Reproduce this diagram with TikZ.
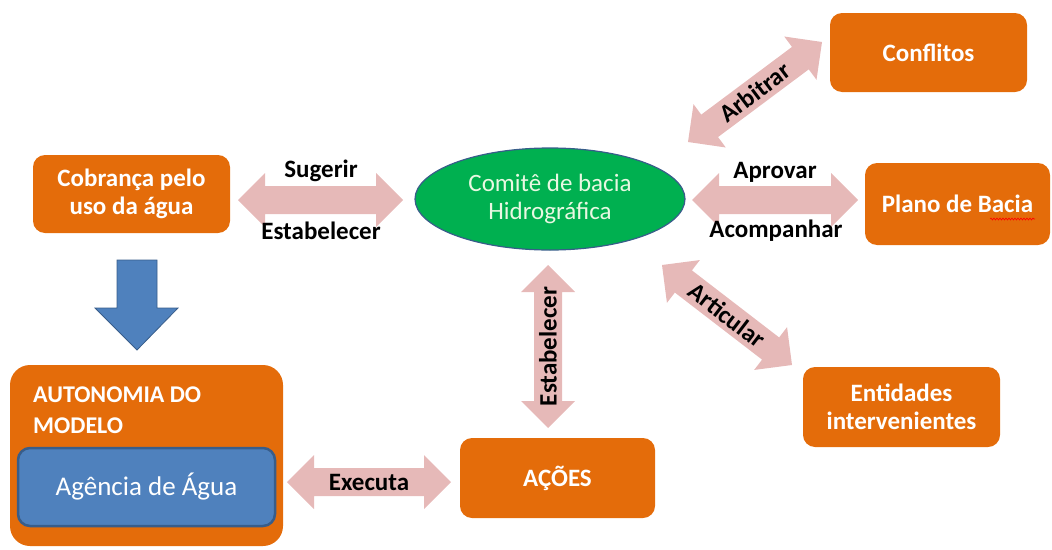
\documentclass[tikz,border=0pt]{standalone}
\usepackage{fontspec}
\setmainfont{Carlito}
\usetikzlibrary{shapes.geometric,calc,decorations.pathmorphing}

\definecolor{boxorange}{RGB}{228,108,10}
\definecolor{arrowpink}{RGB}{230,185,184}
\definecolor{comitegreen}{RGB}{0,176,80}
\definecolor{agblue}{RGB}{79,129,189}
\definecolor{agborder}{RGB}{56,93,138}
\definecolor{paletext}{RGB}{232,248,226}

\tikzset{
  orangebox/.style={fill=boxorange, rounded corners=12pt, text=white, align=center,
    font=\bfseries\fontsize{25}{28}\selectfont, inner sep=0pt},
  armlabel/.style={font=\bfseries\fontsize{25}{28}\selectfont, inner sep=0pt},
  arrowfill/.style={fill=arrowpink}
}

% fat double arrow between two named points
\newcommand{\fatarrow}[2]{%
  \coordinate (fa1) at ($(#1)!27pt!(#2)$);
  \coordinate (fa2) at ($(#2)!27pt!(#1)$);
  \fill[arrowfill] (#1) -- ($(fa1)!27pt!90:(#2)$) -- ($(fa1)!14pt!90:(#2)$)
    -- ($(fa2)!14pt!-90:(#1)$) -- ($(fa2)!27pt!-90:(#1)$) -- (#2)
    -- ($(fa2)!27pt!90:(#1)$) -- ($(fa2)!14pt!90:(#1)$)
    -- ($(fa1)!14pt!-90:(#2)$) -- ($(fa1)!27pt!-90:(#2)$) -- cycle;}

\begin{document}
\begin{tikzpicture}[x=1pt,y=-1pt]
    \useasboundingbox (0,0) rectangle (1052,549);

    % boxes
    \node[orangebox, minimum width=197, minimum height=78] (cob) at (131.5,194) {Cobrança pelo\\uso da água};
    \node[orangebox, minimum width=197, minimum height=79] (conf) at (928.5,52.5) {Conflitos};
    \node[orangebox, minimum width=185, minimum height=82] (plano) at (957.5,204) {Plano de Bacia};
    \node[orangebox, minimum width=197, minimum height=80] (ent) at (901.5,407) {Entidades\\intervenientes};
    \node[orangebox, minimum width=195, minimum height=80] (acoes) at (557.5,478) {AÇÕES};
    \node[orangebox, minimum width=273, minimum height=181, rounded corners=20pt] (auto) at (146.5,455.5) {};
    \node[anchor=north west, align=left, text=white, inner sep=0pt,
          font=\bfseries\fontsize{24}{31}\selectfont] (autotxt) at (33,387) {AUTONOMIA DO\\MODELO};
    \node[draw=agborder, line width=2.5pt, fill=agblue, rounded corners=12pt,
          minimum width=257, minimum height=78, text=white,
          font=\fontsize{27}{32}\selectfont] (ag) at (146.5,487) {Agência de Água};
    \node[ellipse, draw=agborder, line width=1.2pt, fill=comitegreen, minimum width=270,
          minimum height=102, text=paletext, align=center,
          font=\fontsize{25}{28}\selectfont] (comite) at (550,199) {Comitê de bacia\\Hidrográfica};

    % spelling mark
    \draw[red, line width=0.6pt, decorate, decoration={snake, amplitude=1pt, segment length=3pt}]
        (990,219) -- (1035,219);

    % blue arrow
    \coordinate (bluetop) at (137,260);
    \coordinate (bluetip) at (137,350);
    \filldraw[fill=agblue, draw=agborder, line width=0.8pt] ($(bluetop)+(-20,0)$) -- ++(40,0) -- ++(0,48)
        -- ++(21,0) -- (bluetip) -- ++(-42,-42) -- ++(22,0) -- cycle;

    % pink arrows
    \coordinate (sugA) at (238,200);
    \coordinate (sugB) at (403,200);
    \coordinate (aprA) at (692,200);
    \coordinate (aprB) at (858,200);
    \coordinate (arbA) at (688,142);
    \coordinate (arbB) at (822,42);
    \coordinate (artA) at (662,265);
    \coordinate (artB) at (792,365);
    \coordinate (estA) at (548,265);
    \coordinate (estB) at (548,428);
    \coordinate (exeA) at (287,482);
    \coordinate (exeB) at (451,482);
    \fatarrow{sugA}{sugB}
    \fatarrow{aprA}{aprB}
    \fatarrow{arbA}{arbB}
    \fatarrow{artA}{artB}
    \fatarrow{estA}{estB}
    \fatarrow{exeA}{exeB}

    \node[armlabel] (sug) at (321,171) {Sugerir};
    \node[armlabel] (est1) at (321,231) {Estabelecer};
    \node[armlabel] (apr) at (775,172) {Aprovar};
    \node[armlabel] (aco) at (776,231) {Acompanhar};
    \node[armlabel, rotate=37] (arb) at ($(arbA)!0.5!(arbB)$) {Arbitrar};
    \node[armlabel, rotate=-37.5] (art) at ($(artA)!0.5!(artB)$) {Articular};
    \node[armlabel, rotate=90] (est2) at ($(estA)!0.5!(estB)$) {Estabelecer};
    \node[armlabel] (exe) at ($(exeA)!0.5!(exeB)$) {Executa};
\end{tikzpicture}
\end{document}
